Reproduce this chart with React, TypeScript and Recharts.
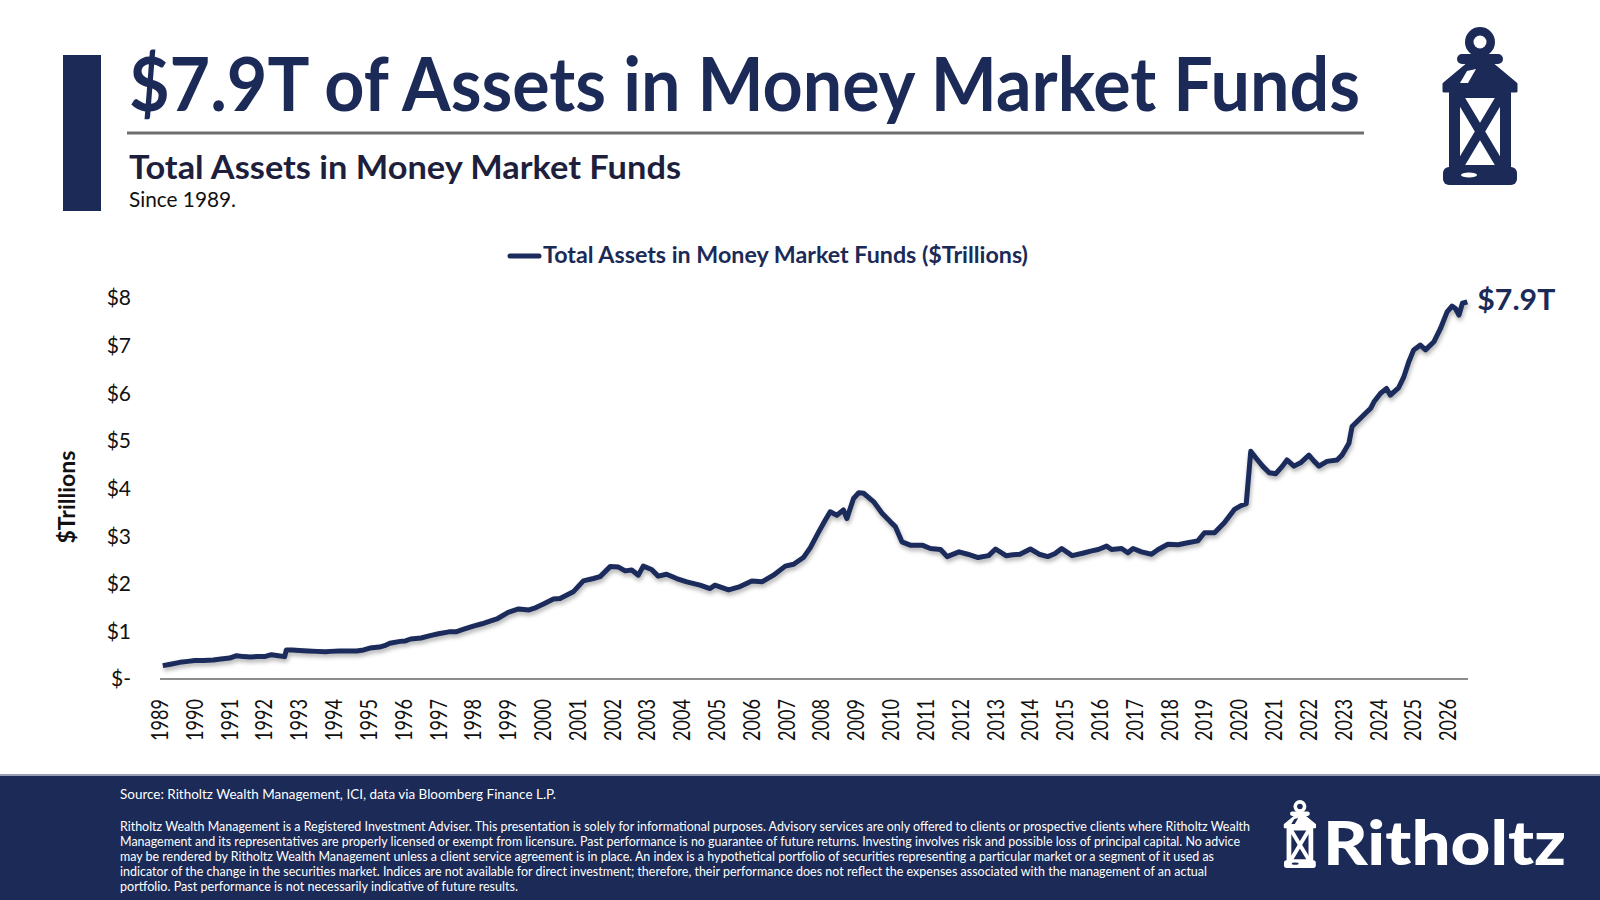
import React from 'react'
import { LineChart, Line, XAxis, YAxis, Legend } from 'recharts'

const NAVY = '#1b2a57'
const LINE_COLOR = '#1a2b5c'

// observation dates as decimal years
const dates = [
  1989.08, 1989.3, 1989.57, 1989.8, 1990.0, 1990.25, 1990.53, 1990.75, 1991.0, 1991.2,
  1991.4, 1991.6, 1991.8, 1992.0, 1992.2, 1992.4, 1992.58, 1992.63, 1992.8, 1993.0,
  1993.25, 1993.5, 1993.75, 1993.9, 1994.15, 1994.4, 1994.65, 1994.85, 1995.03, 1995.3,
  1995.45, 1995.6, 1995.9, 1996.05, 1996.2, 1996.5, 1996.76, 1997.0, 1997.3, 1997.5,
  1997.75, 1998.0, 1998.25, 1998.5, 1998.7, 1999.0, 1999.3, 1999.6, 1999.8, 2000.0,
  2000.3, 2000.49, 2000.87, 2001.16, 2001.45, 2001.64, 2001.93, 2002.17, 2002.36, 2002.55,
  2002.74, 2002.88, 2003.12, 2003.31, 2003.55, 2003.84, 2004.13, 2004.51, 2004.8, 2004.94,
  2005.33, 2005.66, 2006.0, 2006.29, 2006.62, 2006.96, 2007.2, 2007.48, 2007.68, 2007.92,
  2008.11, 2008.25, 2008.44, 2008.63, 2008.73, 2008.92, 2009.07, 2009.21, 2009.5, 2009.74,
  2009.98, 2010.12, 2010.31, 2010.55, 2010.89, 2011.13, 2011.42, 2011.61, 2011.95, 2012.2,
  2012.5, 2012.8, 2013.0, 2013.3, 2013.5, 2013.7, 2014.0, 2014.25, 2014.5, 2014.7,
  2014.9, 2015.2, 2015.5, 2015.76, 2015.95, 2016.19, 2016.33, 2016.62, 2016.8, 2016.95,
  2017.19, 2017.48, 2017.67, 2017.95, 2018.24, 2018.52, 2018.81, 2019.0, 2019.29, 2019.57,
  2019.86, 2020.05, 2020.2, 2020.33, 2020.48, 2020.67, 2020.86, 2021.05, 2021.24, 2021.37,
  2021.57, 2021.76, 2022.0, 2022.14, 2022.29, 2022.52, 2022.81, 2022.95, 2023.15, 2023.24,
  2023.43, 2023.67, 2023.77, 2023.87, 2024.06, 2024.23, 2024.34, 2024.58, 2024.73, 2024.87,
  2025.01, 2025.2, 2025.35, 2025.59, 2025.78, 2025.97, 2026.11, 2026.21, 2026.31, 2026.41,
  2026.55,
]

// total assets in money market funds, $ trillions
const assets = [
  0.28, 0.31, 0.35, 0.37, 0.39, 0.39, 0.40, 0.42, 0.44, 0.49,
  0.47, 0.46, 0.47, 0.47, 0.51, 0.49, 0.47, 0.61, 0.61, 0.60,
  0.59, 0.58, 0.57, 0.58, 0.59, 0.59, 0.59, 0.61, 0.65, 0.67,
  0.70, 0.75, 0.79, 0.80, 0.84, 0.86, 0.91, 0.95, 0.99, 0.99,
  1.05, 1.11, 1.16, 1.22, 1.27, 1.40, 1.47, 1.45, 1.50, 1.57,
  1.68, 1.69, 1.83, 2.06, 2.11, 2.15, 2.36, 2.35, 2.27, 2.29,
  2.18, 2.37, 2.30, 2.16, 2.20, 2.11, 2.04, 1.97, 1.90, 1.97,
  1.87, 1.94, 2.06, 2.04, 2.18, 2.37, 2.41, 2.55, 2.76, 3.09,
  3.34, 3.51, 3.44, 3.55, 3.37, 3.79, 3.91, 3.90, 3.72, 3.48,
  3.30, 3.20, 2.88, 2.81, 2.81, 2.74, 2.72, 2.57, 2.67, 2.62,
  2.55, 2.59, 2.73, 2.59, 2.61, 2.62, 2.73, 2.62, 2.57, 2.63,
  2.74, 2.59, 2.64, 2.69, 2.72, 2.79, 2.72, 2.74, 2.65, 2.74,
  2.67, 2.62, 2.72, 2.83, 2.82, 2.86, 2.90, 3.07, 3.07, 3.28,
  3.56, 3.64, 3.68, 4.78, 4.64, 4.47, 4.33, 4.31, 4.47, 4.60,
  4.47, 4.54, 4.70, 4.58, 4.47, 4.57, 4.60, 4.70, 4.95, 5.30,
  5.44, 5.61, 5.68, 5.82, 6.00, 6.10, 5.96, 6.12, 6.35, 6.66,
  6.91, 7.01, 6.91, 7.08, 7.36, 7.71, 7.83, 7.78, 7.64, 7.89,
  7.92,
]

const yearTicks = [
  1989, 1990, 1991, 1992, 1993, 1994, 1995, 1996, 1997, 1998,
  1999, 2000, 2001, 2002, 2003, 2004, 2005, 2006, 2007, 2008,
  2009, 2010, 2011, 2012, 2013, 2014, 2015, 2016, 2017, 2018,
  2019, 2020, 2021, 2022, 2023, 2024, 2025, 2026,
]
const valueTicks = [0, 1, 2, 3, 4, 5, 6, 7, 8]

const seriesName = 'Total Assets in Money Market Funds ($Trillions)'

const disclaimer = [
  'Ritholtz Wealth Management is a Registered Investment Adviser. This presentation is solely for informational purposes. Advisory services are only offered to clients or prospective clients where Ritholtz Wealth',
  'Management and its representatives are properly licensed or exempt from licensure. Past performance is no guarantee of future returns. Investing involves risk and possible loss of principal capital. No advice',
  'may be rendered by Ritholtz Wealth Management unless a client service agreement is in place. An index is a hypothetical portfolio of securities representing a particular market or a segment of it used as',
  'indicator of the change in the securities market. Indices are not available for direct investment; therefore, their performance does not reflect the expenses associated with the management of an actual',
  'portfolio. Past performance is not necessarily indicative of future results.',
]
const disclaimerWidths = [1130, 1120, 1094, 1087, 398]

const rows = dates.map((d, i) => ({ date: d, assets: assets[i] }))
const last = rows.length - 1

function Lantern({ x, y, scale, fg, bg }: { x: number; y: number; scale: number; fg: string; bg: string }) {
  return (
    <g transform={`translate(${x},${y}) scale(${scale})`}>
      <circle cx={37} cy={15} r={15} fill={fg} />
      <circle cx={37} cy={15} r={6.5} fill={bg} />
      <rect x={14} y={27} width={46} height={10} rx={5} fill={fg} />
      <polygon points="25,37 49,37 73,57 73,64 1,64 1,57" fill={fg} stroke={fg} strokeWidth={3} strokeLinejoin="round" />
      <rect x={6} y={60} width={62} height={86} fill={fg} />
      <rect x={0} y={140} width={74} height={18} rx={6} fill={fg} />
      <polygon points="24,44 33,42 25,56 17,56" fill={bg} />
      <rect x={17} y={71} width={40} height={67} rx={4} fill={bg} />
      <path d="M17 71 L57 138 M57 71 L17 138" stroke={fg} strokeWidth={9} />
      <ellipse cx={26} cy={148} rx={8} ry={2.5} fill={bg} />
    </g>
  )
}

const YearTick = (props: any) => {
  const { x, y, payload } = props
  const ax = x + 8
  return (
    <text
      x={ax}
      y={y}
      transform={`rotate(-90, ${ax}, ${y})`}
      textAnchor="end"
      fontSize={23}
      fontFamily="Lato"
      fill="#111"
      textLength={42}
      lengthAdjust="spacingAndGlyphs"
    >
      {payload.value}
    </text>
  )
}

// only the last point gets a mark: the value label
const EndLabel = (p: any) => {
  if (p.index !== last) return <g key={`d-${p.index}`} />
  return (
    <text
      key="end-label"
      x={p.cx + 10}
      y={p.cy + 8}
      fontSize={29}
      fontWeight={700}
      fontFamily="Lato"
      fill={NAVY}
      textLength={78}
      lengthAdjust="spacingAndGlyphs"
    >
      {`$${assets[last].toFixed(1)}T`}
    </text>
  )
}

const renderLegend = (props: any) => {
  const name = props?.payload?.[0]?.value ?? seriesName
  return (
    <svg width={540} height={40}>
      <line x1={8} y1={20} x2={37} y2={20} stroke={LINE_COLOR} strokeWidth={5} strokeLinecap="round" />
      <text x={41} y={27} fontSize={23} fontWeight={700} fontFamily="Lato" fill={NAVY} textLength={485} lengthAdjust="spacingAndGlyphs">
        {name}
      </text>
    </svg>
  )
}

export default function App() {
  return (
    <div style={{ position: 'absolute', left: 0, top: 0, width: 1600, height: 900, background: '#fff', fontFamily: 'Lato', overflow: 'hidden' }}>
      <style>{'.mmf-line .recharts-line-curve{filter:drop-shadow(1px 3px 2px rgba(0,0,0,0.3))}'}</style>
      <svg width={1600} height={900} style={{ position: 'absolute', left: 0, top: 0 }}>
        {/* header */}
        <rect x={63} y={55} width={38} height={156} fill={NAVY} />
        <text x={129} y={111} fontSize={74} fontWeight={700} fontFamily="Lato" fill={NAVY} textLength={1231} lengthAdjust="spacingAndGlyphs">
          $7.9T of Assets in Money Market Funds
        </text>
        <line x1={127} y1={133} x2={1364} y2={133} stroke="#6e6e6e" strokeWidth={3} />
        <text x={129} y={179} fontSize={33} fontWeight={700} fontFamily="Lato" fill="#1e1f3d" textLength={552} lengthAdjust="spacingAndGlyphs">
          Total Assets in Money Market Funds
        </text>
        <text x={129} y={207} fontSize={21} fontFamily="Lato" fill="#111" textLength={107} lengthAdjust="spacingAndGlyphs">
          Since 1989.
        </text>
        <Lantern x={1443} y={27} scale={1} fg={NAVY} bg="#fff" />

        {/* axis title */}
        <text x={75} y={497} transform="rotate(-90, 75, 497)" textAnchor="middle" fontSize={22} fontWeight={700} fontFamily="Lato" fill="#111" textLength={93} lengthAdjust="spacingAndGlyphs">
          $Trillions
        </text>

        {/* footer */}
        <rect x={0} y={775} width={1600} height={125} fill={NAVY} />
        <line x1={0} y1={775} x2={1600} y2={775} stroke="#9aa0b3" strokeWidth={2} />
        <text x={120} y={799} fontSize={13} fontFamily="Lato" fill="#fff" textLength={436} lengthAdjust="spacingAndGlyphs">
          Source: Ritholtz Wealth Management, ICI, data via Bloomberg Finance L.P.
        </text>
        {disclaimer.map((line, i) => (
          <text key={i} x={120} y={831 + i * 15} fontSize={13} fontFamily="Lato" fill="#fff" textLength={disclaimerWidths[i]} lengthAdjust="spacingAndGlyphs">
            {line}
          </text>
        ))}
        <Lantern x={1284} y={800} scale={0.43} fg="#fff" bg={NAVY} />
        <text x={1323} y={865} fontSize={60} fontWeight={900} fontFamily="Lato" fill="#fff" textLength={243} lengthAdjust="spacingAndGlyphs">
          Ritholtz
        </text>
      </svg>

      <div style={{ position: 'absolute', left: 0, top: 0 }}>
        <LineChart width={1600} height={900} data={rows} margin={{ top: 298, right: 132, bottom: 151, left: 100 }}>
          <XAxis
            dataKey="date"
            type="number"
            domain={[1989, 2026.57]}
            ticks={yearTicks}
            interval={0}
            height={70}
            tickLine={false}
            tickSize={0}
            tickMargin={20}
            axisLine={{ stroke: '#8c8c8c', strokeWidth: 2 }}
            tick={<YearTick />}
          />
          <YAxis
            domain={[0, 8]}
            ticks={valueTicks}
            width={60}
            axisLine={false}
            tickLine={false}
            tickSize={0}
            tickMargin={29}
            tick={{ fontSize: 21, fill: '#111', fontFamily: 'Lato' }}
            tickFormatter={(v: number) => (v === 0 ? '$-' : `$${v}`)}
          />
          <Legend verticalAlign="middle" wrapperStyle={{ top: 236, left: 502, width: 540, height: 40 }} content={renderLegend} />
          <Line
            className="mmf-line"
            name={seriesName}
            type="linear"
            dataKey="assets"
            stroke={LINE_COLOR}
            strokeWidth={5}
            strokeLinejoin="round"
            dot={EndLabel}
            activeDot={false}
            isAnimationActive={false}
          />
        </LineChart>
      </div>
    </div>
  )
}
